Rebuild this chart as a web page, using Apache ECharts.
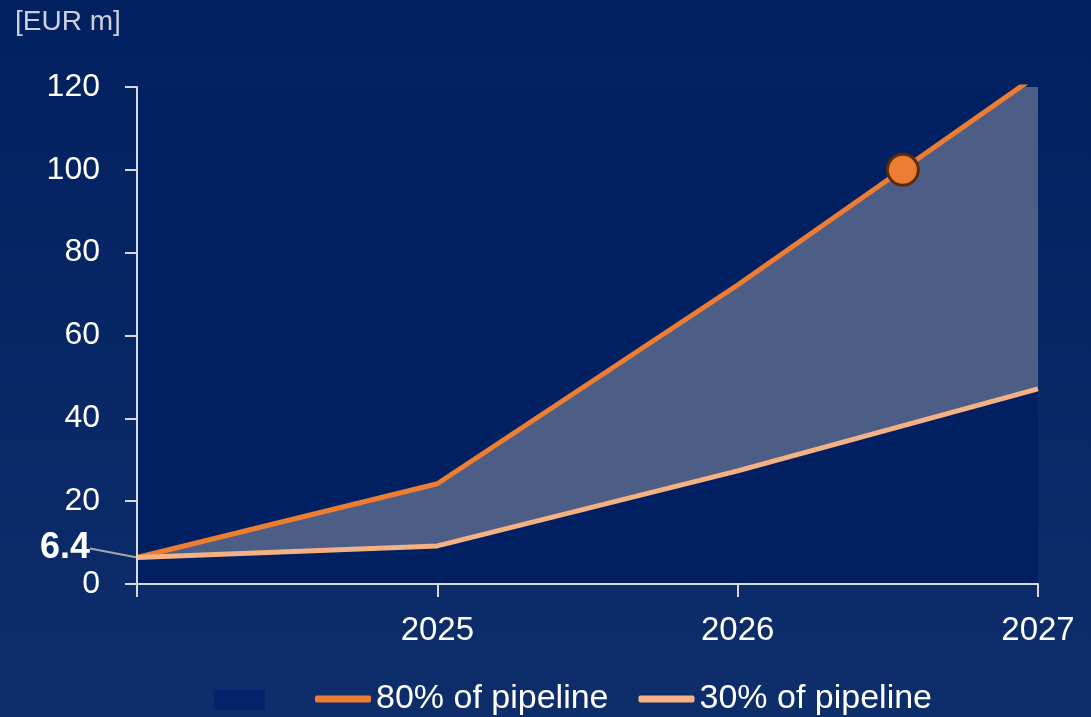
<!DOCTYPE html>
<html>
<head>
<meta charset="utf-8">
<script src="https://cdn.jsdelivr.net/npm/echarts@6/dist/echarts.min.js"></script>
<style>
  html, body { margin: 0; padding: 0; }
  #cht { width: 1091px; height: 717px; }
</style>
</head>
<body>
<div id="cht"></div>
<script>
const years = [2024, 2025, 2026, 2027];
const high = [6.4, 24.2, 72.2, 123];   // 80% of pipeline
const low = [6.4, 9.2, 27.3, 47.1];    // 30% of pipeline
const marker = [[2026.55, 100]];
const yTicks = [0, 20, 40, 60, 80, 100, 120];

const cht = echarts.init(document.getElementById('cht'));
window.onresize = () => cht.resize();

const pair = (arr) => arr.map((v, i) => [years[i], v]);

const axisColor = '#d9d9d9';
const plotBg = '#002062';
const font = '"Liberation Sans", Arial, sans-serif';

const option = {
  backgroundColor: {
    type: 'linear', x: 0, y: 0, x2: 0, y2: 1,
    colorStops: [
      { offset: 0, color: '#00205f' },
      { offset: 1, color: '#0d2d6b' },
    ],
  },
  title: {
    text: '[EUR m]',
    left: 10,
    top: 3,
    textStyle: { color: '#cdd0da', fontSize: 28, fontWeight: 'normal', fontFamily: font },
  },
  grid: {
    left: 137, right: 53, top: 87, bottom: 133,
    show: true, backgroundColor: plotBg, borderWidth: 0,
  },
  legend: [
    {
      left: 209, top: 685,
      itemWidth: 51, itemHeight: 20,
      icon: 'rect',
      data: [{ name: 'range', itemStyle: { color: '#05236a' } }],
      formatter: () => '',
      selectedMode: false,
    },
    {
      left: 310, top: 677,
      itemWidth: 56, itemHeight: 7, itemGap: 30,
      icon: 'roundRect',
      data: ['80% of pipeline', '30% of pipeline'],
      textStyle: { color: '#ffffff', fontSize: 34, fontFamily: font },
      selectedMode: false,
    },
  ],
  xAxis: {
    type: 'value',
    min: 2024, max: 2027, interval: 1,
    z: 10,
    splitLine: { show: false },
    axisLine: { show: true, lineStyle: { color: axisColor, width: 2 } },
    axisTick: { show: true, length: 13, lineStyle: { color: axisColor, width: 2 } },
    axisLabel: {
      color: '#ffffff', fontSize: 33, fontFamily: font, margin: 30,
      formatter: (v) => (v === years[0] ? '' : String(v)),
    },
  },
  yAxis: {
    type: 'value',
    min: yTicks[0], max: yTicks[yTicks.length - 1], interval: 20,
    z: 10,
    splitLine: { show: false },
    axisLine: { show: true, lineStyle: { color: axisColor, width: 2 } },
    axisTick: { show: true, length: 12, lineStyle: { color: axisColor, width: 2 } },
    axisLabel: { color: '#ffffff', fontSize: 32, fontFamily: font, margin: 37 },
  },
  series: [
    {
      // band fill: area under the 80% line ...
      name: 'range',
      type: 'line',
      data: pair(high),
      symbol: 'none',
      lineStyle: { width: 0 },
      itemStyle: { color: '#05236a' },
      areaStyle: { color: '#4c5e86', opacity: 1 },
      silent: true,
      z: 1,
    },
    {
      // ... masked below the 30% line with the plot colour
      name: 'mask',
      type: 'line',
      data: pair(low),
      symbol: 'none',
      lineStyle: { width: 0 },
      areaStyle: { color: plotBg, opacity: 1 },
      silent: true,
      z: 1,
    },
    {
      name: '80% of pipeline',
      type: 'line',
      data: pair(high),
      symbol: 'none',
      itemStyle: { color: '#ed7d31' },
      lineStyle: { color: '#ed7d31', width: 5 },
      z: 3,
    },
    {
      name: '30% of pipeline',
      type: 'line',
      data: pair(low),
      symbol: 'none',
      itemStyle: { color: '#f4b183' },
      lineStyle: { color: '#f4b183', width: 5 },
      z: 4,
    },
    {
      name: 'start',
      type: 'scatter',
      data: [[years[0], low[0]]],
      symbolSize: 2,
      itemStyle: { color: 'rgba(0,0,0,0)', opacity: 1 },
      label: {
        show: true, position: 'left', distance: 4,
        formatter: String(low[0]),
        color: '#ffffff', fontSize: 36, fontWeight: 'bold', fontFamily: font,
      },
      labelLayout: { dx: -42, dy: -9 },
      labelLine: { show: true, lineStyle: { color: '#a6a6a6', width: 2 } },
      silent: true,
      z: 5,
    },
    {
      name: 'marker',
      type: 'scatter',
      data: marker,
      symbolSize: 31,
      itemStyle: { color: '#ed7d31', borderColor: '#5c2a0c', borderWidth: 3, opacity: 1 },
      z: 6,
    },
  ],
};

cht.setOption(option);
</script>
</body>
</html>
